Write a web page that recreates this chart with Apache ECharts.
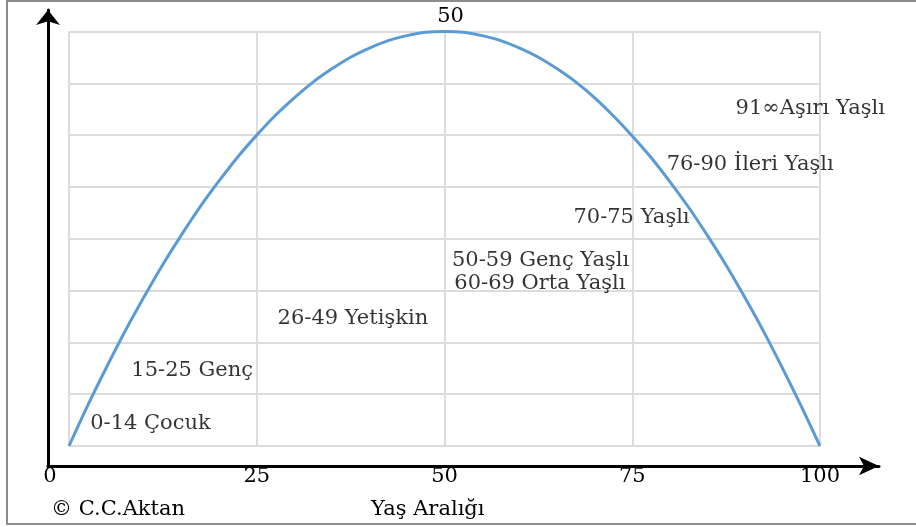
<!DOCTYPE html>
<html>
<head>
<meta charset="utf-8">
<script src="https://cdn.jsdelivr.net/npm/echarts@6/dist/echarts.min.js"></script>
<style>
html, body { margin: 0; padding: 0; background: #fff; }
#chart { width: 916px; height: 527px; }
</style>
</head>
<body>
<div id="chart"></div>
<script>
// ---- data ----
const ages = [0, 2.5, 5, 7.5, 10, 12.5, 15, 17.5, 20, 22.5, 25, 27.5, 30, 32.5, 35, 37.5, 40, 42.5, 45, 47.5, 50,
              52.5, 55, 57.5, 60, 62.5, 65, 67.5, 70, 72.5, 75, 77.5, 80, 82.5, 85, 87.5, 90, 92.5, 95, 97.5, 100];
const curveValues = [0, 4.9, 9.5, 13.9, 18, 21.9, 25.5, 28.9, 32, 34.9, 37.5, 39.9, 42, 43.9, 45.5, 46.9, 48, 48.9, 49.5, 49.9, 50,
                     49.9, 49.5, 48.9, 48, 46.9, 45.5, 43.9, 42, 39.8, 37.4, 34.8, 31.9, 28.8, 25.4, 21.8, 17.9, 13.8, 9.4, 4.8, 0];
const xTickValues = [0, 25, 50, 75, 100];
const groupNames = ['0-14 Çocuk', '15-25 Genç', '26-49 Yetişkin', '50-59 Genç Yaşlı', '60-69 Orta Yaşlı', '70-75 Yaşlı', '76-90 İleri Yaşlı', '91∞Aşırı Yaşlı'];
const groupAnchorX = [10.85, 16.4, 37.8, 62.8, 62.7, 74.9, 90.7, 98.7];
const groupAnchorY = [2.65, 9.05, 15.4, 22.4, 19.6, 27.5, 34.0, 40.65];
const peakAge = 50;
const axisTitle = 'Yaş Aralığı';
const creditText = '© C.C.Aktan';

const FONT = 'DejaVu Serif';
const FS = 21;
const TXT = '#000';

const chart = echarts.init(document.getElementById('chart'), null, { renderer: 'canvas' });

const lineData = ages.map((a, i) => [a, curveValues[i]]);
const peakValue = curveValues[ages.indexOf(peakAge)];
const groupData = groupNames.map((n, i) => ({ name: n, value: [groupAnchorX[i], groupAnchorY[i]] }));

const option = {
  backgroundColor: '#fff',
  animation: false,
  title: [
    { text: creditText, left: 46, top: 494, textStyle: { fontFamily: FONT, fontSize: FS, fontWeight: 'normal', color: TXT } },
    { text: axisTitle, left: 366, top: 494, textStyle: { fontFamily: FONT, fontSize: FS, fontWeight: 'normal', color: TXT } }
  ],
  graphic: [
    { type: 'rect', shape: { x: 7, y: 1, width: 920, height: 523 }, style: { fill: 'none', stroke: '#8c8c8c', lineWidth: 2 }, silent: true, z: -1 }
  ],
  grid: [
    { left: 69, right: 96, top: 31.5, bottom: 81 },
    { left: 48, right: 37, top: 10, bottom: 61 }
  ],
  xAxis: [
    {
      gridIndex: 0, type: 'value', min: 0, max: 100, interval: 25,
      axisLine: { show: false }, axisTick: { show: false },
      splitLine: { show: true, lineStyle: { color: '#dcdcdc', width: 2 } },
      axisLabel: {
        show: true, margin: 20, color: TXT, fontFamily: FONT, fontSize: FS,
        formatter: v => (v === 0 ? '{z|0}' : String(v)),
        rich: { z: { padding: [0, 38, 0, 0], fontFamily: FONT, fontSize: FS, color: TXT } }
      }
    },
    {
      gridIndex: 1, type: 'value', min: 0, max: 1,
      axisLine: { show: true, symbol: ['none', 'arrow'], symbolSize: [14, 20], lineStyle: { color: '#000', width: 3 } },
      axisTick: { show: false }, axisLabel: { show: false }, splitLine: { show: false }
    }
  ],
  yAxis: [
    {
      gridIndex: 0, type: 'value', min: 0, max: 50, interval: 6.25,
      axisLine: { show: false }, axisTick: { show: false }, axisLabel: { show: false },
      splitLine: { show: true, lineStyle: { color: '#dcdcdc', width: 2 } }
    },
    {
      gridIndex: 1, type: 'value', min: 0, max: 1,
      axisLine: { show: true, symbol: ['none', 'arrow'], symbolSize: [18, 15], lineStyle: { color: '#000', width: 3 } },
      axisTick: { show: false }, axisLabel: { show: false }, splitLine: { show: false }
    }
  ],
  series: [
    {
      type: 'line', xAxisIndex: 0, yAxisIndex: 0,
      data: lineData, smooth: 0.3, showSymbol: false, symbol: 'none', clip: false,
      lineStyle: { color: '#5b9bd5', width: 3 }, silent: true, z: 3,
      markPoint: {
        silent: true, symbol: 'circle', symbolSize: 1,
        itemStyle: { color: 'rgba(0,0,0,0)' },
        label: { show: true, position: 'top', distance: 4, offset: [6, 0], formatter: '{c}', fontFamily: FONT, fontSize: FS, color: TXT },
        data: [{ coord: [peakAge, peakValue], value: peakValue }]
      }
    },
    {
      type: 'scatter', xAxisIndex: 0, yAxisIndex: 0,
      data: groupData, symbolSize: 1, itemStyle: { color: 'rgba(0,0,0,0)' }, silent: true, z: 4,
      label: { show: true, position: 'inside', formatter: '{b}', fontFamily: FONT, fontSize: FS, color: TXT }
    }
  ]
};

chart.setOption(option);
</script>
</body>
</html>
